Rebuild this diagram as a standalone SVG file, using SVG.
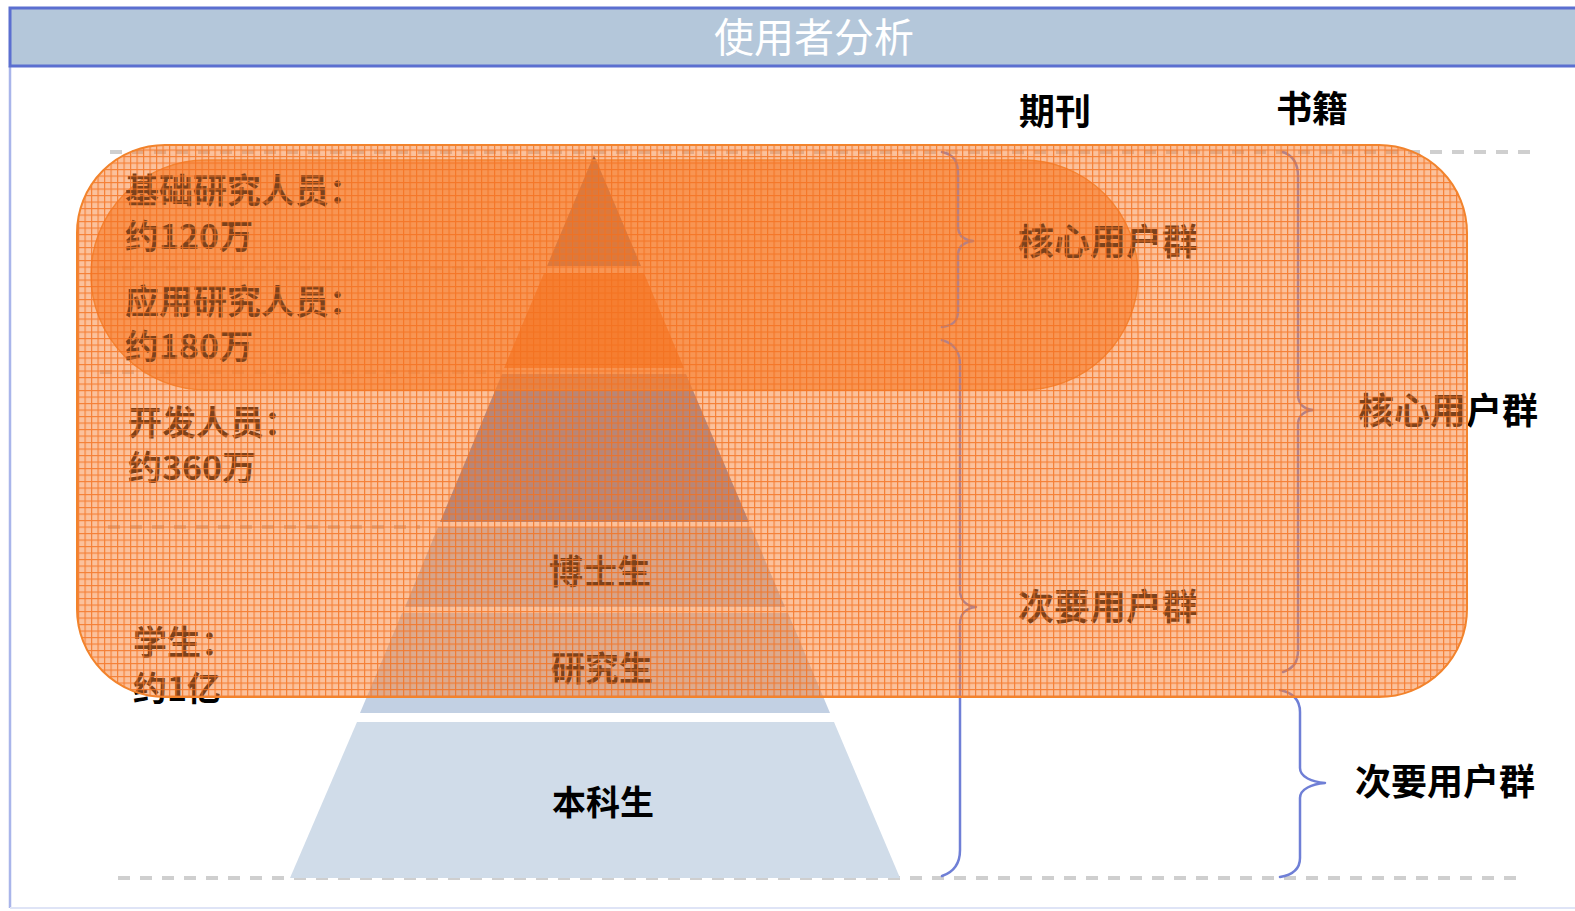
<svg xmlns="http://www.w3.org/2000/svg" width="1575" height="911" viewBox="0 0 1575 911">
<defs>
<pattern id="grid" x="0" y="0" width="6.5" height="6.5" patternUnits="userSpaceOnUse">
<rect width="6.5" height="6.5" fill="#f8843a" fill-opacity="0.5"/>
<path d="M0 0.6H6.5M0.6 0V6.5" stroke="#f4701e" stroke-opacity="0.8" stroke-width="1.2"/>
</pattern>
<style>
.dash{stroke:#cfcfcf;stroke-width:4;stroke-dasharray:12 10;fill:none}
.brace{fill:none;stroke:#6f7fd6;stroke-width:2.5;stroke-linecap:round;stroke-linejoin:round}
.t{font-family:"Noto Sans CJK SC","Noto Sans",sans-serif;font-weight:bold;font-size:34px;fill:#000}
.lbl{font-family:"Noto Sans CJK SC","Noto Sans",sans-serif;font-weight:bold;font-size:36px;fill:#000}
</style>
</defs>
<rect width="1575" height="911" fill="#ffffff"/>
<g id="frame">
<line x1="10" y1="66" x2="10" y2="908" stroke="#a9b5ea" stroke-width="2.5"/>
<line x1="10" y1="908" x2="1575" y2="908" stroke="#dfe4f6" stroke-width="2"/>
<rect x="10" y="8" width="1570" height="58" fill="#b4c7da" stroke="#5b6fd0" stroke-width="3"/>
<text x="814" y="52" text-anchor="middle" font-family="'Noto Sans CJK SC','Noto Sans',sans-serif" font-size="40" fill="#ffffff">使用者分析</text>
</g>
<g id="guides">
<line class="dash" x1="110" y1="152" x2="1540" y2="152"/>
<line class="dash" x1="100" y1="268" x2="540" y2="268"/>
<line class="dash" x1="100" y1="372" x2="500" y2="372"/>
<line class="dash" x1="108" y1="527" x2="420" y2="527"/>
<line class="dash" x1="118" y1="878" x2="1520" y2="878"/>
</g>
<g id="pyramid">
<polygon id="layer1" points="594,155 547,266 641,266" fill="#3a4670"/>
<polygon id="layer2" points="544,273 644,273 684,368 504,368" fill="#f26a18"/>
<polygon id="layer3" points="502,374 686,374 749,522 440,522" fill="#7888b6"/>
<polygon id="layer4" points="438,527 751,527 785,607 405,607" fill="#b6c5dc"/>
<polygon id="layer5" points="402,613 788,613 830,713 360,713" fill="#c2d0e3"/>
<polygon id="layer6" points="357,722 834,722 900,878 290,878" fill="#d0dce9"/>
</g>
<g id="core-inner">
<rect x="91" y="160" width="1047" height="230" rx="115" ry="115" fill="#f7802f" fill-opacity="0.7" stroke="#f0862e" stroke-width="1.5"/>
</g>
<g id="connectors">
<path class="brace" d="M942 152 C955 155 958 162 958 175 L958 226 C958 236 964 240 973 241 C964 242 958 246 958 256 L958 310 C958 320 955 325 942 327"/>
<path class="brace" d="M942 340 C955 344 960 352 960 365 L960 590 C960 600 966 606 976 607 C966 608 960 614 960 624 L960 850 C960 864 954 872 942 876"/>
<path class="brace" d="M1283 152 C1294 156 1298 164 1298 176 L1298 395 C1298 404 1304 409 1313 410 C1304 411 1298 416 1298 425 L1298 650 C1298 662 1294 668 1283 672"/>
<path class="brace" d="M1280 690 C1294 693 1300 700 1300 712 L1300 768 C1300 777 1312 782 1325 783 C1312 784 1300 789 1300 798 L1300 858 C1300 869 1292 875 1280 877"/>
</g>
<g id="labels">
<text class="lbl" x="1055" y="125" text-anchor="middle">期刊</text>
<text class="lbl" x="1312" y="122" text-anchor="middle">书籍</text>
<text class="lbl" x="1018" y="255">核心用户群</text>
<text class="lbl" x="1018" y="620">次要用户群</text>
<text class="lbl" x="1358" y="424">核心用户群</text>
<text class="lbl" x="1355" y="795">次要用户群</text>
</g>
<g id="node-basic">
<text class="t" x="125" y="203">基础研究人员：</text>
<text class="t" x="125" y="249">约120万</text>
</g>
<g id="node-applied">
<text class="t" x="125" y="314">应用研究人员：</text>
<text class="t" x="125" y="359">约180万</text>
</g>
<g id="node-dev">
<text class="t" x="128" y="435">开发人员：</text>
<text class="t" x="128" y="480">约360万</text>
</g>
<g id="node-student">
<text class="t" x="133" y="655">学生：</text>
<text class="t" x="133" y="701">约1亿</text>
</g>
<g id="node-phd"><text class="t" x="600" y="584" text-anchor="middle">博士生</text></g>
<g id="node-master"><text class="t" x="602" y="681" text-anchor="middle">研究生</text></g>
<g id="node-bachelor"><text class="t" x="603" y="815" text-anchor="middle">本科生</text></g>
<g id="core-outer">
<rect x="77" y="145" width="1390" height="552" rx="88" ry="88" fill="url(#grid)" stroke="#f2832c" stroke-width="2"/>
</g>
</svg>
